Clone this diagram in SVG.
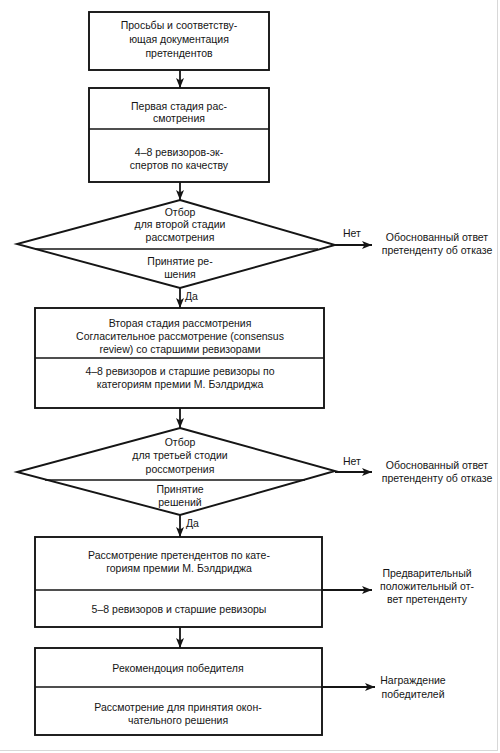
<svg xmlns="http://www.w3.org/2000/svg" width="500" height="753" viewBox="0 0 500 753">
<defs>
<marker id="ah" viewBox="0 0 10 8" refX="10" refY="4" markerWidth="10" markerHeight="8" markerUnits="userSpaceOnUse" orient="auto">
<path d="M0,0 L10,4 L0,8 L2.5,4 Z" fill="#151515"/>
</marker>
<style>
.box{fill:#fff;stroke:#151515;stroke-width:1.9}
.div{stroke:#151515;stroke-width:1.5;fill:none}
.con{stroke:#151515;stroke-width:1.8;fill:none}
.t{font-family:"Liberation Sans",Arial,sans-serif;font-size:10.5px;fill:#151515;text-anchor:middle}
.l{font-family:"Liberation Sans",Arial,sans-serif;font-size:10.5px;fill:#151515;text-anchor:start}
</style>
</defs>
<rect width="500" height="753" fill="#fff"/>
<line x1="497.5" y1="0" x2="497.5" y2="750" stroke="#d8d8d8" stroke-width="1"/>
<line x1="0" y1="750.5" x2="498" y2="750.5" stroke="#d8d8d8" stroke-width="1"/>

<g id="connectors">
<line class="con" x1="180" y1="70" x2="180" y2="88" marker-end="url(#ah)"/>
<line class="con" x1="180" y1="182" x2="180" y2="200" marker-end="url(#ah)"/>
<line class="con" x1="335" y1="245" x2="372" y2="245" marker-end="url(#ah)"/>
<line class="con" x1="180" y1="288" x2="180" y2="308" marker-end="url(#ah)"/>
<line class="con" x1="180" y1="408" x2="180" y2="428" marker-end="url(#ah)"/>
<line class="con" x1="335" y1="472" x2="372" y2="472" marker-end="url(#ah)"/>
<line class="con" x1="180" y1="515" x2="180" y2="537" marker-end="url(#ah)"/>
<line class="con" x1="322" y1="590" x2="372" y2="590" marker-end="url(#ah)"/>
<line class="con" x1="180" y1="627" x2="180" y2="648" marker-end="url(#ah)"/>
<line class="con" x1="322" y1="687" x2="375" y2="687" marker-end="url(#ah)"/>
<text class="l" x="343" y="237">Нет</text>
<text class="l" x="185" y="300">Да</text>
<text class="l" x="343" y="465">Нет</text>
<text class="l" x="186" y="527">Да</text>
</g>

<g id="n1">
<rect class="box" x="89" y="12" width="180" height="58"/>
<text class="t" x="179" y="29">Просьбы и соответству-</text>
<text class="t" x="179" y="43">ющая документация</text>
<text class="t" x="179" y="57">претендентов</text>
</g>

<g id="n2">
<rect class="box" x="89" y="88" width="180" height="94"/>
<line class="div" x1="89" y1="129" x2="269" y2="129"/>
<text class="t" x="179" y="110">Первая стадия рас-</text>
<text class="t" x="179" y="122">смотрения</text>
<text class="t" x="179" y="156">4–8 ревизоров-эк-</text>
<text class="t" x="179" y="169">спертов по качеству</text>
</g>

<g id="d1">
<polygon class="box" points="180,200 335,245 180,288 17,244"/>
<line class="div" x1="35" y1="249" x2="318" y2="249"/>
<text class="t" x="180" y="216">Отбор</text>
<text class="t" x="180" y="228">для второй стадии</text>
<text class="t" x="180" y="241">рассмотрения</text>
<text class="t" x="180" y="265">Принятие ре-</text>
<text class="t" x="180" y="278">шения</text>
</g>

<g id="r1">
<text class="t" x="437" y="241">Обоснованный ответ</text>
<text class="t" x="437" y="254">претенденту об отказе</text>
</g>

<g id="n3">
<rect class="box" x="35" y="308" width="289" height="100"/>
<line class="div" x1="35" y1="358" x2="324" y2="358"/>
<text class="t" x="180" y="327">Вторая стадия рассмотрения</text>
<text class="t" x="180" y="340">Согласительное рассмотрение (consensus</text>
<text class="t" x="180" y="353">review) со старшими ревизорами</text>
<text class="t" x="180" y="375">4–8 ревизоров и старшие ревизоры по</text>
<text class="t" x="180" y="388">категориям премии М. Бэлдриджа</text>
</g>

<g id="d2">
<polygon class="box" points="180,428 335,471 180,515 17,472"/>
<line class="div" x1="45" y1="480" x2="305" y2="480"/>
<text class="t" x="180" y="446">Отбор</text>
<text class="t" x="180" y="459">для третьей стодии</text>
<text class="t" x="180" y="473">россмотрения</text>
<text class="t" x="180" y="493">Принятие</text>
<text class="t" x="180" y="506">решений</text>
</g>

<g id="r2">
<text class="t" x="437" y="469">Обоснованный ответ</text>
<text class="t" x="437" y="482">претенденту об отказе</text>
</g>

<g id="n4">
<rect class="box" x="35" y="537" width="287" height="90"/>
<line class="div" x1="35" y1="590" x2="322" y2="590"/>
<text class="t" x="179" y="559">Рассмотрение претендентов по кате-</text>
<text class="t" x="179" y="572">гориям премии М. Бэлдриджа</text>
<text class="t" x="179" y="613">5–8 ревизоров и старшие ревизоры</text>
</g>

<g id="r3">
<text class="t" x="427" y="577">Предварительный</text>
<text class="t" x="427" y="590">положительный от-</text>
<text class="t" x="427" y="603">вет претенденту</text>
</g>

<g id="n5">
<rect class="box" x="35" y="648" width="287" height="87"/>
<line class="div" x1="35" y1="687" x2="322" y2="687"/>
<text class="t" x="178" y="672">Рекомендоция победителя</text>
<text class="t" x="178" y="711">Рассмотрение для принятия окон-</text>
<text class="t" x="178" y="724">чательного решения</text>
</g>

<g id="r4">
<text class="t" x="413" y="684">Награждение</text>
<text class="t" x="413" y="698">победителей</text>
</g>
</svg>
